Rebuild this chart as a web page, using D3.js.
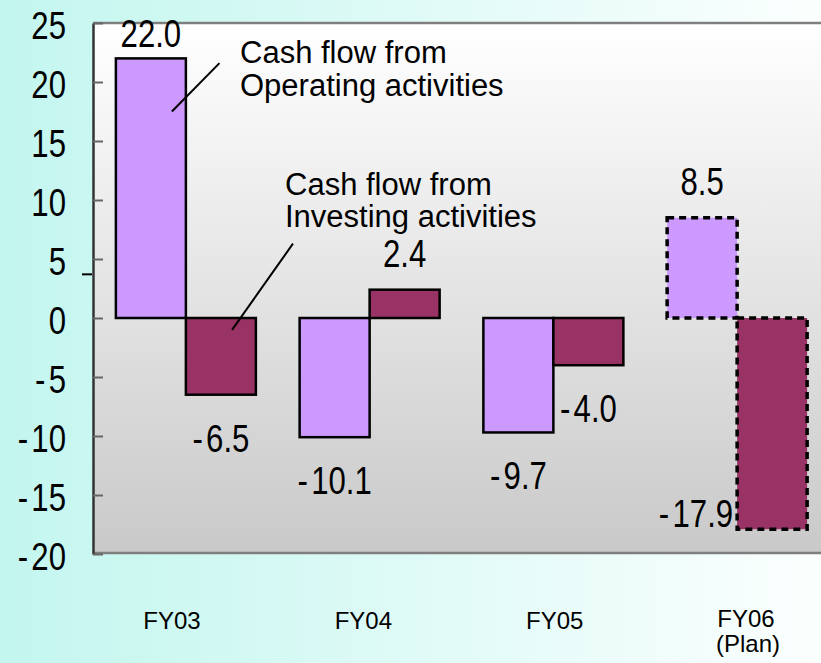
<!DOCTYPE html>
<html>
<head>
<meta charset="utf-8">
<script src="https://cdn.jsdelivr.net/npm/d3@7"></script>
<style>
  html, body { margin: 0; padding: 0; }
  body { width: 821px; height: 663px; overflow: hidden; }
  text { font-family: "Liberation Sans", Arial, sans-serif; fill: #000; }
  .num { font-family: "Liberation Sans", Arial, sans-serif; font-size: 38px; }
</style>
</head>
<body>
<svg id="chart" width="821" height="663"></svg>
<script>
// values (billions)
var years = ["FY03", "FY04", "FY05", "FY06"];
var yearNotes = ["", "", "", "(Plan)"];
var operating = [22.0, -10.1, -9.7, 8.5];
var investing = [-6.5, 2.4, -4.0, -17.9];
var isPlan = [false, false, false, true];
var yTicks = [25, 20, 15, 10, 5, 0, -5, -10, -15, -20];
var operatingName = ["Cash flow from", "Operating activities"];
var investingName = ["Cash flow from", "Investing activities"];

// numbers in the picture use a condensed face; squeeze the regular one
var NARROW = 0.82;

// write "-10" as a sign and digits with a little gap, like the original
function signed(sel, str) {
  sel.text(null);
  if (str.charAt(0) === "-") {
    sel.append("tspan").text("-");
    sel.append("tspan").attr("dx", 4).text(str.slice(1));
  } else {
    sel.text(str);
  }
}

function drawChart(id) {
  var svg = d3.select("#" + id),
      width = +svg.attr("width"),
      height = +svg.attr("height");

  var left = 93, top = 23, right = 830, bottom = 554;

  var defs = svg.append("defs");
  var bg = defs.append("linearGradient").attr("id", "pageBg")
      .attr("x1", 0).attr("y1", 0).attr("x2", 1).attr("y2", 0);
  bg.append("stop").attr("offset", "0%").attr("stop-color", "#c3f6ef");
  bg.append("stop").attr("offset", "100%").attr("stop-color", "#fbfffe");
  var pg = defs.append("linearGradient").attr("id", "plotBg")
      .attr("x1", 0).attr("y1", 0).attr("x2", 0).attr("y2", 1);
  pg.append("stop").attr("offset", "0%").attr("stop-color", "#ffffff");
  pg.append("stop").attr("offset", "100%").attr("stop-color", "#c9c9c9");

  svg.append("rect").attr("width", width).attr("height", height).attr("fill", "url(#pageBg)");

  var y = d3.scaleLinear().domain([-20, 25]).range([bottom, top]);
  var x = d3.scaleBand().domain(years).range([left + 1, right - 1]).paddingInner(0);
  var sub = d3.scaleBand().domain(["op", "inv"]).range([0, x.bandwidth()]).paddingInner(0).paddingOuter(0.3125);

  // plot frame
  svg.append("rect")
      .attr("x", left).attr("y", top)
      .attr("width", right - left).attr("height", bottom - top)
      .attr("fill", "url(#plotBg)");
  svg.append("line").attr("x1", left).attr("x2", right).attr("y1", top).attr("y2", top)
      .attr("stroke", "#7f7f7f").attr("stroke-width", 2.5);
  svg.append("line").attr("x1", left).attr("x2", right).attr("y1", bottom - 1).attr("y2", bottom - 1)
      .attr("stroke", "#7f7f7f").attr("stroke-width", 2.5);

  // y axis, ticks pointing inside
  var fmtTick = function(d) { return d3.format("d")(d).replace("\u2212", "-"); };
  var yAxis = svg.append("g")
      .attr("transform", "translate(" + left + ",0)")
      .call(d3.axisLeft(y).tickValues(yTicks).tickSizeInner(-10).tickSizeOuter(0).tickPadding(27)
            .tickFormat(fmtTick));
  yAxis.select(".domain").attr("stroke", "#333").attr("stroke-width", 2.5);
  yAxis.selectAll(".tick line").attr("stroke", "#666").attr("stroke-width", 2);
  yAxis.selectAll(".tick text")
      .attr("class", "num")
      .attr("x", -27 / NARROW)
      .attr("dy", "0.42em")
      .attr("transform", "scale(" + NARROW + ",1)")
      .style("font-size", "38px")
      .style("font-family", "\"Liberation Sans\", Arial, sans-serif")
      .attr("fill", "#000")
      .each(function(d) { signed(d3.select(this), fmtTick(d)); });
  // stray dash next to the 5 label
  svg.append("line").attr("x1", left - 11).attr("x2", left - 1)
      .attr("y1", y(3.7)).attr("y2", y(3.7))
      .attr("stroke", "#000").attr("stroke-width", 2);

  var rows = [];
  years.forEach(function(yr, i) {
    rows.push({year: yr, key: "op", value: operating[i], plan: isPlan[i], fill: "#cc99ff"});
    rows.push({year: yr, key: "inv", value: investing[i], plan: isPlan[i], fill: "#993366"});
  });

  var bars = svg.append("g").selectAll("rect")
    .data(rows)
    .enter().append("rect")
      .attr("x", function(d) { return x(d.year) + sub(d.key); })
      .attr("y", function(d) { return y(Math.max(0, d.value)); })
      .attr("width", sub.bandwidth())
      .attr("height", function(d) { return Math.abs(y(d.value) - y(0)); })
      .attr("fill", function(d) { return d.fill; })
      .attr("stroke", "#000")
      .attr("stroke-width", function(d) { return d.plan ? 3.5 : 2.5; })
      .attr("stroke-dasharray", function(d) { return d.plan ? "7,5" : null; });

  // value labels: above positive bars, below negative ones, beside when no room
  function noRoom(d) { return d.value < 0 && y(d.value) + 57 > bottom; }
  function labelX(d) {
    var bx = x(d.year) + sub(d.key);
    return noRoom(d) ? bx - 4 : bx + sub.bandwidth() / 2;
  }
  function labelY(d) {
    if (d.value >= 0) return Math.max(y(d.value) - 23, top + 24);
    if (noRoom(d)) return y(d.value) - 2;
    return y(d.value) + 57;
  }
  svg.append("g").selectAll("text")
    .data(rows)
    .enter().append("text")
      .attr("class", "num")
      .attr("text-anchor", function(d) { return noRoom(d) ? "end" : "middle"; })
      .attr("transform", function(d) {
        return "translate(" + labelX(d) + "," + labelY(d) + ") scale(" + NARROW + ",1)";
      })
      .each(function(d) { signed(d3.select(this), d3.format(".1f")(d.value).replace("\u2212", "-")); });

  // callouts
  var opBar = x("FY03") + sub("op");
  svg.append("line")
      .attr("x1", opBar + sub.bandwidth() * 0.8).attr("y1", y(17.5))
      .attr("x2", opBar + sub.bandwidth() * 1.48).attr("y2", y(21.6))
      .attr("stroke", "#000").attr("stroke-width", 2);
  svg.append("text").attr("x", 240).attr("y", 63)
      .style("font-size", "31px")
    .selectAll("tspan").data(operatingName).enter().append("tspan")
      .attr("x", 240).attr("dy", function(d, i) { return i ? 33 : 0; })
      .text(function(d) { return d; });

  var invBar = x("FY03") + sub("inv");
  svg.append("line")
      .attr("x1", invBar + sub.bandwidth() * 0.66).attr("y1", y(-1.0))
      .attr("x2", invBar + sub.bandwidth() * 1.53).attr("y2", y(6.3))
      .attr("stroke", "#000").attr("stroke-width", 2);
  svg.append("text").attr("x", 285).attr("y", 195)
      .style("font-size", "31px")
    .selectAll("tspan").data(investingName).enter().append("tspan")
      .attr("x", 285).attr("dy", function(d, i) { return i ? 32 : 0; })
      .text(function(d) { return d; });

  // category labels below the frame
  var lx = d3.scaleLinear().domain([0, years.length - 1]).range([172, 746]);
  var cat = svg.append("g").selectAll("text")
    .data(years)
    .enter().append("text")
      .attr("text-anchor", "middle")
      .attr("x", function(d, i) { return lx(i); })
      .attr("y", function(d, i) { return yearNotes[i] ? 627 : 629; })
      .style("font-size", "24px");
  cat.append("tspan").text(function(d) { return d; });
  cat.append("tspan")
      .attr("x", function(d, i) { return lx(i) + 2; })
      .attr("dy", 25)
      .text(function(d, i) { return yearNotes[i]; });
}

drawChart("chart");
</script>
</body>
</html>
